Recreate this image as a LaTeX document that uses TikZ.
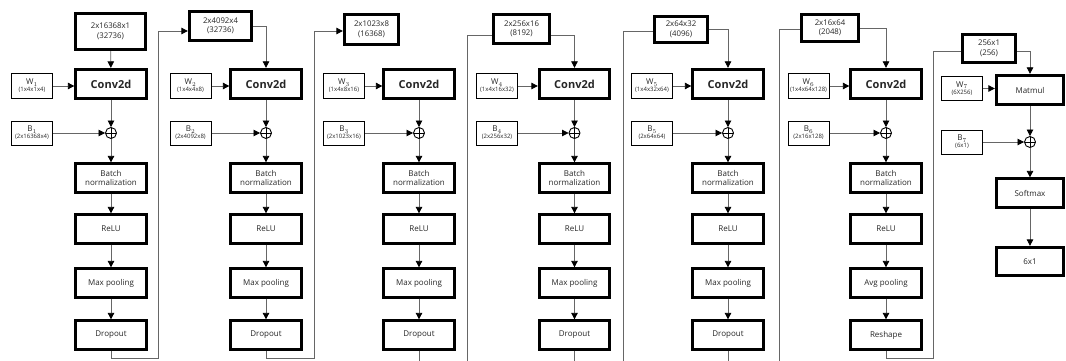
\documentclass[tikz,border=0pt]{standalone}
\usepackage{fontspec}
\setmainfont{Open Sans}
\usetikzlibrary{
arrows.meta,
positioning,
}
\tikzset{
every node/.style={align=center, inner sep=1pt, text=black!85},
layer/.style={draw, line width=2.8pt, minimum width=70.5pt, minimum height=28.5pt,
  font=\fontsize{8}{9.5}\selectfont},
conv/.style={layer, minimum height=29.5pt, font=\fontsize{11}{13}\selectfont\bfseries},
tensor/.style={draw, line width=2.8pt, font=\fontsize{7.8}{9.5}\selectfont},
param/.style={draw, line width=1pt, minimum width=41pt, minimum height=24pt,
  font=\fontsize{6}{6.8}\selectfont},
adder/.style={draw, circle, line width=0.9pt, minimum size=11pt, inner sep=0pt,
  path picture={\draw[line width=0.9pt]
    (path picture bounding box.north) -- (path picture bounding box.south)
    (path picture bounding box.west) -- (path picture bounding box.east);}},
flow/.style={draw=black!60, line width=0.8pt},
>={Triangle[length=6.5pt,width=6.5pt,color=black]},
}
\newcommand{\wlabel}[2]{{\fontsize{8}{8}\selectfont$\mathrm{#1}_{#2}$}}

\begin{document}
\begin{tikzpicture}[x=1pt, y=-1pt]
\useasboundingbox (0,0) rectangle (1066,361);
\clip (0,0) rectangle (1066,361);

% six conv blocks
\foreach \c/\cx/\wx/\tx/\ty/\tw/\th/\tdim/\tnum/\wdim/\bdim/\pool/\last in {
  1/111/32/110.5/31.5/70.5/36.5/2x16368x1/32736/1x4x1x4/2x16368x4/Max pooling/Dropout,
  2/266/190.5/220.5/26/62.5/29.5/2x4092x4/32736/1x4x4x8/2x4092x8/Max pooling/Dropout,
  3/419/344/371.5/29.5/54.5/30.5/2x1023x8/16368/1x4x8x16/2x1023x16/Max pooling/Dropout,
  4/574.5/497/521.5/29/56.5/29.5/2x256x16/8192/1x4x16x32/2x256x32/Max pooling/Dropout,
  5/728/652/681/29.5/53.5/26.5/2x64x32/4096/1x4x32x64/2x64x64/Max pooling/Dropout,
  6/886/808.5/830/28/57.5/26.5/2x16x64/2048/1x4x64x128/2x16x128/Avg pooling/Reshape} {
  \node[tensor, minimum width=\tw, minimum height=\th] (t\c) at (\tx,\ty) {\tdim\\(\tnum)};
  \node[conv] (conv\c) at (\cx,84) {Conv2d};
  \node[param] (w\c) at (\wx,86) {\wlabel{W}{\c}\\(\wdim)};
  \node[adder] (add\c) at (\cx,133) {};
  \node[param] (b\c) at (\wx,133) {\wlabel{B}{\c}\\(\bdim)};
  \node[layer] (bn\c) at (\cx,178) {Batch\\normalization};
  \node[layer] (relu\c) at (\cx,229) {ReLU};
  \node[layer] (pool\c) at (\cx,283) {\pool};
  \node[layer] (out\c) at (\cx,335) {\last};
  \draw[flow,->] (w\c) -- (w\c -| conv\c.west);
  \draw[flow,->] (conv\c) -- (add\c);
  \draw[flow,->] (b\c) -- (add\c);
  \draw[flow,->] (add\c) -- (bn\c);
  \draw[flow,->] (bn\c) -- (relu\c);
  \draw[flow,->] (relu\c) -- (pool\c);
  \draw[flow,->] (pool\c) -- (out\c);
}

% dense block
\node[tensor, minimum width=53.5, minimum height=28.5] (t7) at (989,48.5) {256x1\\(256)};
\node[layer, minimum width=67.5, minimum height=29.5] (mm) at (1030,90) {Matmul};
\node[param] (w7) at (962,88.5) {\wlabel{W}{7}\\(6X256)};
\node[adder] (add7) at (1030,142) {};
\node[param] (b7) at (962,142) {\wlabel{B}{7}\\(6x1)};
\node[layer, minimum width=67.5] (soft) at (1030,193) {Softmax};
\node[layer, minimum width=67.5] (res) at (1030,261.5) {6x1};
\draw[flow,->] (w7) -- (w7 -| mm.west);
\draw[flow,->] (mm) -- (add7);
\draw[flow,->] (b7) -- (add7);
\draw[flow,->] (add7) -- (soft);
\draw[flow,->] (soft) -- (res);

% inputs to each block
\draw[flow,->] (t1) -- (conv1);
\draw[flow,->] (t2) -| (conv2);
\draw[flow,->] ([yshift=-6pt]t4.east) -| (conv4);
\draw[flow,->] (t5) -| (conv5);
\draw[flow,->] (t6) -| (conv6);
\draw[flow,->] ([yshift=-3pt]t7.east) -| (mm);

% block to block
\draw[flow,->] (out1) |- (158,358) |- ([yshift=-5pt]t2.west);
\draw[flow,->] (out2) |- (314,358) |- ([yshift=-1.5pt]t3.west);
\draw[flow] (out3) |- (467,380) |- ([yshift=-6pt]t4.west);
\draw[flow] (out4) |- (623,380) |- ([yshift=-1.5pt]t5.west);
\draw[flow] (out5) |- (779,380) |- ([yshift=-1pt]t6.west);
\draw[flow] (out6) |- (933,358) |- ([yshift=-3pt]t7.west);
\end{tikzpicture}
\end{document}
